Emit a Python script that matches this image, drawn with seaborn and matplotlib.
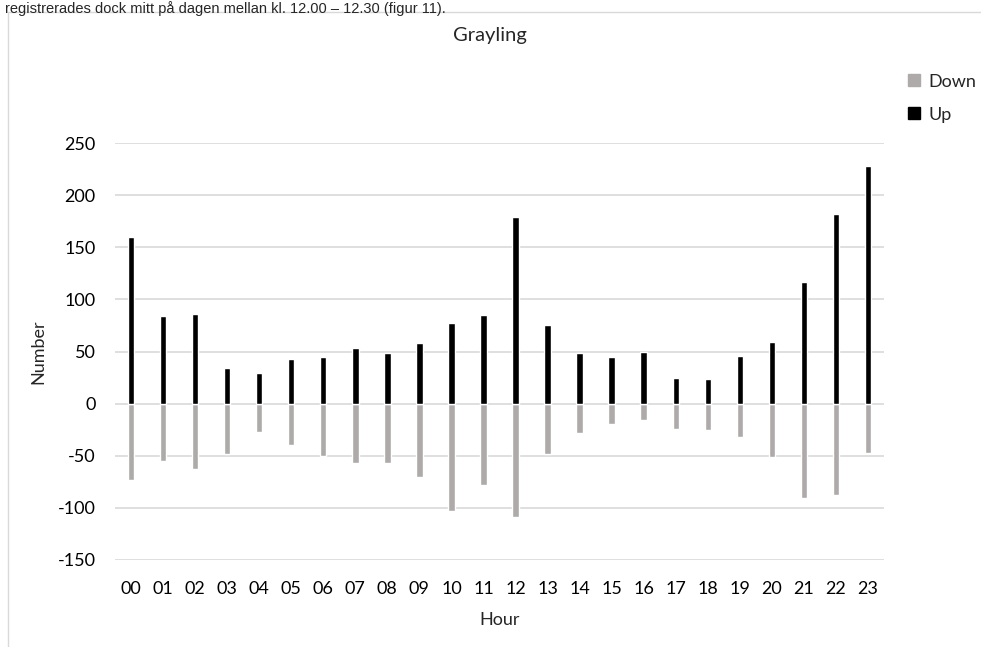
import matplotlib
matplotlib.use("Agg")
import matplotlib.pyplot as plt
import seaborn as sns
import pandas as pd
from matplotlib.lines import Line2D

hours = [f"{h:02d}" for h in range(24)]
up = [160, 84, 86, 34, 29, 43, 45, 53, 49, 58, 77, 85, 179, 75, 49, 45, 50, 25, 24, 46, 59, 117, 182, 228]
down = [-73, -55, -63, -48, -27, -40, -50, -57, -57, -70, -103, -78, -109, -48, -28, -20, -16, -24, -25, -32, -51, -91, -88, -47]
yticks = [-150, -100, -50, 0, 50, 100, 150, 200, 250]

df = pd.DataFrame({"Hour": hours, "Up": up, "Down": down})

sns.set_theme(style="white")
plt.rcParams['font.family'] = ['Lato', 'DejaVu Sans']

fig = plt.figure(figsize=(9.81, 6.47), dpi=100)
ax = fig.add_axes([115/981, 1 - 560/647, (884 - 115)/981, (560 - 143)/647])

gray = "#AEAAAA"
sns.barplot(data=df, x="Hour", y="Down", color=gray, width=0.2, ax=ax, order=hours, saturation=1)
sns.barplot(data=df, x="Hour", y="Up", color="black", width=0.2, ax=ax, order=hours, saturation=1)

ax.set_xlim(-0.5, 23.5)
ax.set_ylim(-150, 250)
ax.set_yticks(yticks)
ax.set_yticklabels([str(v) for v in yticks])
ax.yaxis.grid(True, color="#D9D9D9", linewidth=1.2)
ax.set_axisbelow(True)
for s in ax.spines.values():
    s.set_visible(False)
ax.tick_params(axis='both', length=0, labelsize=13, colors="#000000")
ax.tick_params(axis='x', pad=15)
ax.tick_params(axis='y', pad=14)
ax.set_xlabel("Hour", fontsize=13, labelpad=11)
ax.set_ylabel("Number", fontsize=13, labelpad=8)

fig.text(490/981, 1 - 36/647, "Grayling", ha="center", va="center", fontsize=14.5)

handles = [Line2D([], [], marker="s", linestyle="none", color=gray, markersize=8.5),
           Line2D([], [], marker="s", linestyle="none", color="black", markersize=8.5)]
fig.legend(handles, ["Down", "Up"], loc="upper left", bbox_to_anchor=(903/981, 1 - 70/647),
           frameon=False, fontsize=13, handletextpad=0.4, labelspacing=0.95, handlelength=0.8,
           borderaxespad=0, borderpad=0.2)

# chart frame (extends beyond image on right and bottom)
fig.add_artist(Line2D([8/981, 1.0], [1 - 12/647, 1 - 12/647], transform=fig.transFigure, color="#D9D9D9", linewidth=1))
fig.add_artist(Line2D([8/981, 8/981], [0, 1 - 12/647], transform=fig.transFigure, color="#D9D9D9", linewidth=1))

# line of document text above the chart
fig.text(5/981, 1 - 1/647, "registrerades dock mitt på dagen mellan kl. 12.00 – 12.30 (figur 11).",
         ha="left", va="top", fontsize=10.5, family=["Liberation Sans", "DejaVu Sans"])

fig.savefig("out.png", dpi=100)
